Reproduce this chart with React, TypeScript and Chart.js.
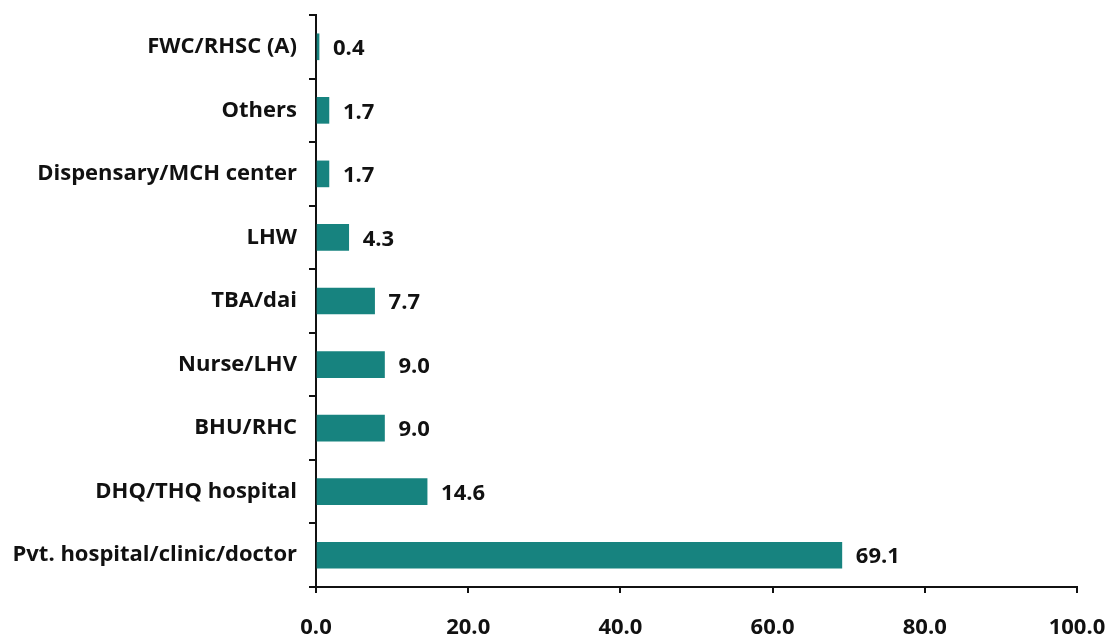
import React, { useEffect, useRef } from "react";
import { Chart, registerables } from "chart.js";

Chart.register(...registerables);

const categories = [
  "FWC/RHSC (A)",
  "Others",
  "Dispensary/MCH center",
  "LHW",
  "TBA/dai",
  "Nurse/LHV",
  "BHU/RHC",
  "DHQ/THQ hospital",
  "Pvt. hospital/clinic/doctor",
];
const values = [0.4, 1.7, 1.7, 4.3, 7.7, 9.0, 9.0, 14.6, 69.1];
const xTicks = [0, 20, 40, 60, 80, 100];

const FONT = "'Open Sans', sans-serif";

const valueLabels = {
  id: "valueLabels",
  afterDatasetsDraw(chart: any) {
    const ctx = chart.ctx;
    const meta = chart.getDatasetMeta(0);
    ctx.save();
    ctx.font = `bold 22px ${FONT}`;
    ctx.fillStyle = "#111";
    ctx.textAlign = "left";
    ctx.textBaseline = "middle";
    meta.data.forEach((el: any, i: number) => {
      ctx.fillText(values[i].toFixed(1), el.x + 14, el.y + 2);
    });
    ctx.restore();
  },
};

export default function App() {
  const ref = useRef<HTMLCanvasElement>(null);
  useEffect(() => {
    if (!ref.current) return;
    const chart = new Chart(ref.current, {
      type: "bar",
      data: {
        labels: categories,
        datasets: [
          {
            data: values,
            backgroundColor: "#17837f",
            barThickness: 26,
          },
        ],
      },
      options: {
        indexAxis: "y",
        animation: false,
        responsive: false,
        maintainAspectRatio: false,
        layout: { padding: { top: 15, right: 33, left: 0, bottom: 0 } },
        plugins: {
          legend: { display: false },
          tooltip: { enabled: false },
        },
        scales: {
          x: {
            min: 0,
            max: 100,
            afterBuildTicks: (s: any) => {
              s.ticks = xTicks.map((v) => ({ value: v }));
            },
            afterFit: (s: any) => {
              s.height = 54;
              s.paddingLeft = 0;
              s.paddingRight = 0;
            },
            border: { color: "#111", width: 2 },
            grid: {
              drawOnChartArea: false,
              drawTicks: true,
              tickLength: 6,
              color: "#111",
              lineWidth: 2,
            },
            ticks: {
              color: "#111",
              padding: 22,
              maxRotation: 0,
              font: { family: FONT, size: 22, weight: "bold" },
              callback: (v: any) => Number(v).toFixed(1),
            },
          },
          y: {
            afterFit: (s: any) => {
              s.width = 316;
              s.paddingTop = 0;
              s.paddingBottom = 0;
            },
            border: { color: "#111", width: 2 },
            grid: {
              offset: true,
              drawOnChartArea: false,
              drawTicks: true,
              tickLength: 7,
              color: "#111",
              lineWidth: 2,
            },
            ticks: {
              color: "#111",
              padding: 12,
              font: { family: FONT, size: 22, weight: "bold" },
            },
          },
        },
      },
      plugins: [valueLabels],
    });
    return () => chart.destroy();
  }, []);
  return (
    <div style={{ position: "fixed", left: 0, top: 0, width: 1110, height: 641, background: "#fff" }}>
      <canvas ref={ref} width={1110} height={641} style={{ width: 1110, height: 641 }} />
    </div>
  );
}
